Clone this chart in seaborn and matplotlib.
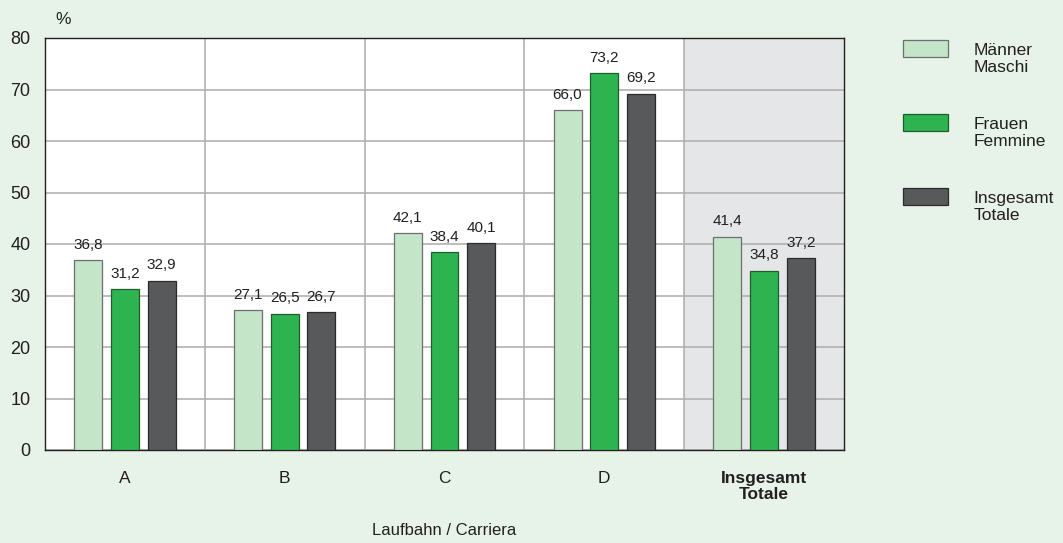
import matplotlib
matplotlib.use("Agg")
import matplotlib.pyplot as plt
from matplotlib.patches import Patch, Rectangle
from matplotlib.legend_handler import HandlerPatch
import pandas as pd
import seaborn as sns

categories = ["A", "B", "C", "D", "Insgesamt\nTotale"]
groups = ["Männer\nMaschi", "Frauen\nFemmine", "Insgesamt\nTotale"]
maenner = [36.8, 27.1, 42.1, 66.0, 41.4]
frauen = [31.2, 26.5, 38.4, 73.2, 34.8]
insgesamt = [32.9, 26.7, 40.1, 69.2, 37.2]

colors = ["#c5e5c8", "#2db350", "#58595b"]
edges = ["#6d6e70", "#1f5c2e", "#2b2b2b"]
BG = "#e7f3e8"
TXT = "#231f20"


class TopPatch(HandlerPatch):
    # legend box sits next to the first text line, not the middle of both
    def create_artists(self, legend, orig_handle, xdescent, ydescent, width, height, fontsize, trans):
        p = Rectangle((-xdescent, -ydescent + 0.6 * fontsize), width, height,
                      facecolor=orig_handle.get_facecolor(), edgecolor=orig_handle.get_edgecolor(),
                      lw=0.9, transform=trans)
        return [p]


def main():
    df = pd.DataFrame({"cat": categories * 3,
                       "grp": [groups[0]] * 5 + [groups[1]] * 5 + [groups[2]] * 5,
                       "val": maenner + frauen + insgesamt})

    sns.set_style("white")
    plt.rcParams["font.family"] = ["Liberation Sans", "DejaVu Sans"]

    fig = plt.figure(figsize=(10.63, 5.43), dpi=100, facecolor=BG)
    ax = fig.add_axes([45 / 1063, 93 / 543, 799 / 1063, 412 / 543])
    ax.set_facecolor("white")

    sns.barplot(data=df, x="cat", y="val", hue="grp", order=categories, hue_order=groups,
                palette=colors, width=0.69, gap=0.24, legend=False, ax=ax,
                saturation=1, zorder=3)

    for cont, ec in zip(ax.containers, edges):
        for bar in cont:
            bar.set_edgecolor(ec)
            bar.set_linewidth(0.9)
        ax.bar_label(cont, labels=[f"{v:.1f}".replace(".", ",") for v in cont.datavalues],
                     padding=6, fontsize=11, color=TXT)

    # shaded total column and grid
    ax.axvspan(3.5, 4.5, color="#e5e6e8", zorder=0.2, lw=0)
    ax.set_xlim(-0.5, 4.5)
    ax.set_ylim(0, 80)
    ax.set_yticks(range(0, 81, 10))
    ax.set_xticks([0.5, 1.5, 2.5, 3.5], minor=True)
    ax.grid(True, which="major", axis="y", color="#b1b1b1", lw=1.2, zorder=0.5)
    ax.grid(True, which="minor", axis="x", color="#b1b1b1", lw=1.2, zorder=0.5)
    ax.set_axisbelow(True)

    for s in ax.spines.values():
        s.set_visible(True)
        s.set_color(TXT)
        s.set_linewidth(1.0)

    ax.tick_params(axis="both", which="both", length=0)
    ax.tick_params(axis="y", pad=10.5, labelsize=13, labelcolor=TXT)
    ax.tick_params(axis="x", pad=15, labelsize=12.5, labelcolor=TXT)
    ax.set_xticks(range(5))
    ax.set_xticklabels(categories, linespacing=1.1)
    ax.get_xticklabels()[-1].set_fontweight("bold")
    ax.set_ylabel("")
    ax.set_xlabel("Laufbahn / Carriera", fontsize=12, color=TXT, labelpad=15)

    fig.text(55 / 1063, 1 - 19 / 543, "%", fontsize=12.5, color=TXT, va="center")

    handles = [Patch(facecolor=c, edgecolor=e) for c, e in zip(colors, edges)]
    fig.legend(handles, groups, loc="upper left", bbox_to_anchor=(887 / 1063, 1 - 27 / 543),
               frameon=False, fontsize=12.5, handlelength=2.6, handleheight=1.1,
               handletextpad=1.5, labelspacing=2.4, labelcolor=TXT,
               handler_map={Patch: TopPatch()})

    fig.savefig("out.png", dpi=100, facecolor=BG)


if __name__ == "__main__":
    main()
